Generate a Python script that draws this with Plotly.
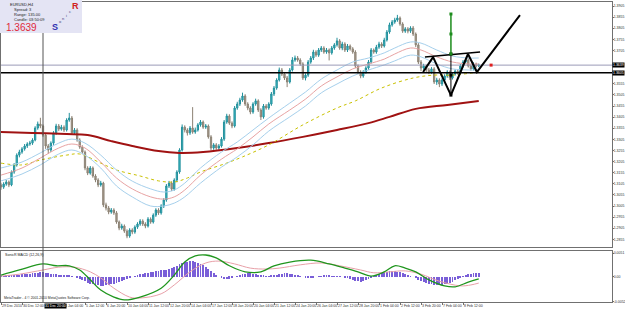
import numpy as np
import plotly.graph_objects as go

# ---------------- data (prices in pips, 1 pip = 0.0001) ----------------
OPEN = [13100,13090,13104,13113,13100,13158,13190,13234,13248,13262,
        13275,13284,13288,13302,13356,13374,13365,13324,13275,13257,
        13288,13334,13365,13351,13360,13347,13392,13401,13334,13347,
        13302,13270,13248,13176,13153,13176,13140,13122,13100,13108,
        13010,12996,12978,12987,12974,12933,12906,12915,12892,12870,
        12897,12888,12910,12924,12937,12924,12915,12946,12933,12964,
        12987,12974,13005,13032,13095,13108,13081,13122,13158,13257,
        13360,13347,13334,13356,13338,13347,13370,13383,13360,13365,
        13316,13266,13280,13266,13275,13306,13383,13410,13378,13365,
        13446,13464,13482,13500,13464,13446,13428,13464,13478,13437,
        13406,13455,13446,13464,13509,13536,13572,13617,13599,13581,
        13563,13617,13662,13671,13662,13644,13581,13594,13653,13671,
        13698,13684,13707,13716,13698,13707,13694,13716,13730,13748,
        13716,13734,13707,13725,13712,13698,13635,13608,13590,13608,
        13626,13653,13707,13698,13720,13734,13725,13752,13788,13820,
        13833,13842,13851,13824,13792,13802,13792,13806,13779,13730,
        13653,13626,13635,13617,13608,13622,13563,13572,13554,13572,
        13590,13608,13581,13599,13612,13603,13635,13653,13662,13635,
        13622,13644,13635]
CLOSE = [13090,13104,13113,13100,13158,13190,13234,13248,13262,13275,
         13284,13288,13302,13356,13374,13365,13324,13275,13257,13288,
         13334,13365,13351,13360,13347,13392,13401,13334,13347,13302,
         13270,13248,13176,13153,13176,13140,13122,13100,13108,13010,
         12996,12978,12987,12974,12933,12906,12915,12892,12870,12897,
         12888,12910,12924,12937,12924,12915,12946,12933,12964,12987,
         12974,13005,13032,13095,13108,13081,13122,13158,13257,13360,
         13347,13334,13356,13338,13347,13370,13383,13360,13365,13316,
         13266,13280,13266,13275,13306,13383,13410,13378,13365,13446,
         13464,13482,13500,13464,13446,13428,13464,13478,13437,13406,
         13455,13446,13464,13509,13536,13572,13617,13599,13581,13563,
         13617,13662,13671,13662,13644,13581,13594,13653,13671,13698,
         13684,13707,13716,13698,13707,13694,13716,13730,13748,13716,
         13734,13707,13725,13712,13698,13635,13608,13590,13608,13626,
         13653,13707,13698,13720,13734,13725,13752,13788,13820,13833,
         13842,13851,13824,13792,13802,13792,13806,13779,13730,13653,
         13626,13635,13617,13608,13622,13563,13572,13554,13572,13590,
         13608,13581,13599,13612,13603,13635,13653,13662,13635,13622,
         13644,13635,13639]
HIGH = [13110,13112,13122,13120,13165,13198,13242,13258,13270,13284,
        13292,13298,13310,13364,13385,13402,13372,13332,13284,13296,
        13342,13375,13374,13370,13368,13400,13424,13410,13356,13355,
        13310,13278,13255,13184,13185,13183,13148,13130,13118,13114,
        13020,13005,12996,12995,12982,12940,12925,12922,12900,12905,
        12905,12918,12932,12946,12945,12932,12955,12954,12972,12995,
        12995,13013,13040,13104,13118,13116,13130,13166,13265,13372,
        13368,13355,13365,13450,13358,13378,13392,13390,13374,13372,
        13324,13288,13288,13284,13315,13392,13420,13418,13386,13455,
        13474,13492,13515,13508,13472,13454,13472,13488,13485,13445,
        13464,13464,13472,13518,13545,13580,13628,13626,13606,13590,
        13626,13675,13682,13680,13670,13652,13602,13662,13680,13708,
        13706,13716,13725,13724,13716,13714,13725,13738,13762,13756,
        13744,13742,13734,13732,13720,13706,13642,13616,13616,13634,
        13662,13716,13714,13730,13744,13742,13762,13797,13830,13842,
        13852,13865,13858,13832,13810,13810,13814,13815,13786,13738,
        13662,13645,13642,13626,13630,13630,13582,13580,13580,13598,
        13616,13615,13607,13620,13620,13644,13662,13672,13670,13642,
        13652,13650,13646]
LOW = [13078,13082,13096,13090,13094,13150,13182,13224,13240,13254,
       13266,13276,13280,13296,13348,13355,13316,13262,13240,13248,
       13280,13325,13342,13344,13338,13340,13384,13325,13326,13294,
       13262,13238,13166,13144,13146,13132,13112,13090,13092,13000,
       12985,12968,12970,12965,12925,12896,12898,12884,12860,12862,
       12878,12880,12902,12916,12915,12905,12908,12925,12926,12956,
       12965,12966,12996,13024,13086,13072,13074,13112,13150,13250,
       13336,13322,13325,13330,13330,13340,13362,13352,13352,13308,
       13256,13258,13258,13258,13268,13298,13375,13370,13355,13358,
       13438,13455,13474,13455,13436,13418,13420,13456,13428,13392,
       13398,13438,13438,13456,13500,13528,13565,13590,13572,13540,
       13556,13610,13654,13654,13636,13572,13570,13586,13645,13662,
       13676,13676,13698,13690,13690,13660,13686,13708,13722,13708,
       13706,13698,13698,13704,13690,13626,13598,13580,13582,13600,
       13618,13646,13690,13690,13712,13716,13718,13745,13780,13812,
       13825,13834,13816,13784,13784,13782,13784,13770,13720,13644,
       13612,13618,13608,13598,13600,13554,13550,13540,13545,13564,
       13582,13572,13574,13592,13596,13596,13628,13646,13628,13614,
       13615,13628,13630]

# Dragon (EMA34 high / close / low), read at sample bars
DRAGON_BARS = [0,8,15,22,27,32,38,44,50,57,62,66,70,76,84,90,96,102,110,116,122,128,134,140,146,150,156,160,166,172,178,182]
DRAGON_TOP = [13176,13203,13244,13288,13306,13288,13234,13167,13117,13082,13068,13077,13108,13176,13248,13293,13347,13401,13468,13518,13576,13617,13653,13671,13694,13716,13743,13738,13707,13680,13671,13671]
DRAGON_MID = [13144,13176,13221,13266,13284,13266,13203,13131,13082,13046,13036,13046,13077,13144,13216,13262,13316,13374,13437,13486,13545,13586,13622,13644,13666,13689,13716,13707,13676,13653,13644,13644]
DRAGON_LOW = [13118,13149,13190,13239,13257,13234,13176,13095,13046,13005,13005,13018,13046,13108,13180,13226,13280,13342,13406,13455,13514,13554,13590,13617,13640,13658,13684,13676,13644,13622,13617,13617]

EMA89_BARS = [0,8,15,25,30,38,44,53,60,66,71,76,85,92,102,115,128,135,145,157,165,172,182]
EMA89_VAL = [13198,13190,13212,13234,13239,13198,13167,13140,13118,13113,13131,13158,13194,13226,13280,13370,13446,13478,13536,13581,13594,13594,13608]

EMA200_BARS = [0,12,25,33,42,50,60,68,77,90,102,115,128,140,148,158,170,182]
EMA200_VAL = [13338,13334,13329,13324,13297,13275,13252,13244,13248,13266,13288,13316,13347,13378,13406,13442,13460,13478]

# MACD panel (units of 0.0001)
MACD_HIST = [2,2,3,3,4,4,5,5,6,6,7,7,8,8,9,10,10,
             9,8,7,6,6,5,5,4,4,3,2,
             0,-2,-4,-7,-9,-12,-14,-16,-17,-18,-19,-19,-18,-17,-16,-14,-12,-10,-8,-6,
             -4,-2,0,2,4,6,7,8,9,10,11,12,13,14,15,16,18,20,22,24,27,30,32,
             33,34,34,33,31,28,25,21,17,12,8,4,0,-3,-5,
             -5,-4,-2,0,2,4,6,7,8,8,7,6,5,4,3,
             2,2,3,4,5,6,7,8,8,7,6,5,4,2,0,
             -1,-2,-2,-1,0,1,2,3,3,3,2,2,1,1,0,
             -1,-2,-4,-6,-8,-9,-10,-9,-7,-5,-2,1,4,6,8,
             10,11,12,12,12,11,10,8,6,4,2,0,-3,-6,-9,
             -11,-13,-15,-16,-17,-18,-18,-17,-16,-14,-12,-10,-7,-4,-1,
             2,4,6,7,8,8,8]
GREEN_BARS = [0,7,16,21,26,30,34,38,43,47,53,61,66,70,74,78,82,87,93,99,104,110,118,125,131,136,141,146,150,154,158,163,169,173,178,182]
GREEN_VAL = [4,15,28,24,24,15,-6,-28,-43,-49,-43,-24,4,32,45,47,41,24,11,11,24,32,36,28,19,11,2,11,24,19,11,-6,-19,-21,-11,-4]
PINK_BARS = [0,7,16,22,28,34,38,43,49,53,61,66,72,78,83,89,95,101,106,114,122,129,137,142,148,154,160,167,175,179,182]
PINK_VAL = [2,6,15,21,21,11,-2,-24,-43,-45,-36,-17,11,30,34,28,19,17,19,26,30,24,15,9,11,13,6,-9,-19,-17,-13]

# price levels & drawings
BID = 13639
HLINE = 13605
ZIGZAG_BARS = [160.8,164.6,171.4,177.9,181.3,197.7]
ZIGZAG_VAL = [13608,13675,13504,13689,13608,13864]
NECK_BARS = [161.5,182.5]
NECK_VAL = [13675,13698]
MEASURE_BAR = 171.4
MEASURE_GREEN = [13869,13779,13689]
MEASURE_BLACK = [13689,13594,13504]
RED_DOT = (186.7, 13639)
VLINE_BAR = 16

PRICE_TICKS = [12855,12905,12955,13005,13055,13105,13155,13205,13255,13305,13355,13405,
               13455,13505,13555,13705,13755,13805,13855,13905]
TICK_BARS = [0,8,24,32,40,48,56,64,72,80,88,96,104,112,120,128,136,144,152,160,168,176]
TICK_TEXT = ["29 Dec 2010","30 Dec 12:00","4 Jan 04:00","5 Jan 12:00","6 Jan 20:00","10 Jan 04:00",
             "11 Jan 12:00","12 Jan 20:00","14 Jan 04:00","17 Jan 12:00","18 Jan 20:00","20 Jan 04:00",
             "21 Jan 12:00","24 Jan 20:00","26 Jan 04:00","27 Jan 12:00","28 Jan 20:00","1 Feb 04:00",
             "2 Feb 12:00","3 Feb 20:00","7 Feb 04:00","8 Feb 12:00"]
VLINE_LABEL = "31 Dec 20:00"

P = lambda a: np.asarray(a, dtype=float) * 1e-4
bars = np.arange(len(CLOSE))

W, H = 625, 309
ML, MR, MT, MB = 1, 13, 2, 7
PW, PH = W - ML - MR, H - MT - MB
def px_x(x): return (x - ML) / PW
def px_y(y): return (H - MB - y) / PH

fig = go.Figure()

# moving averages
fig.add_trace(go.Scatter(x=EMA200_BARS, y=P(EMA200_VAL), mode="lines", line=dict(color="#a01212", width=2, shape="spline"), xaxis="x", yaxis="y"))
fig.add_trace(go.Scatter(x=EMA89_BARS, y=P(EMA89_VAL), mode="lines", line=dict(color="#c9c100", width=1, dash="dot", shape="spline"), xaxis="x", yaxis="y"))
fig.add_trace(go.Scatter(x=DRAGON_BARS, y=P(DRAGON_TOP), mode="lines", line=dict(color="#a6d0ec", width=1, shape="spline"), xaxis="x", yaxis="y"))
fig.add_trace(go.Scatter(x=DRAGON_BARS, y=P(DRAGON_LOW), mode="lines", line=dict(color="#a6d0ec", width=1, shape="spline"), xaxis="x", yaxis="y"))
fig.add_trace(go.Scatter(x=DRAGON_BARS, y=P(DRAGON_MID), mode="lines", line=dict(color="#e8a3a3", width=1, shape="spline"), xaxis="x", yaxis="y"))

# price lines
fig.add_trace(go.Scatter(x=[-1, 240], y=P([BID, BID]), mode="lines", line=dict(color="#9a9ab8", width=1), xaxis="x", yaxis="y"))
fig.add_trace(go.Scatter(x=[-1, 240], y=P([HLINE, HLINE]), mode="lines", line=dict(color="#000000", width=1.5), xaxis="x", yaxis="y"))

# candles
fig.add_trace(go.Candlestick(x=bars, open=P(OPEN), high=P(HIGH), low=P(LOW), close=P(CLOSE),
                             increasing=dict(line=dict(color="#23909c", width=1), fillcolor="#3ec0cc"),
                             decreasing=dict(line=dict(color="#8c8274", width=1), fillcolor="#aaa092"),
                             whiskerwidth=0, xaxis="x", yaxis="y"))

# drawings
fig.add_trace(go.Scatter(x=NECK_BARS, y=P(NECK_VAL), mode="lines", line=dict(color="#000", width=1.5), xaxis="x", yaxis="y"))
fig.add_trace(go.Scatter(x=ZIGZAG_BARS, y=P(ZIGZAG_VAL), mode="lines", line=dict(color="#000", width=2), xaxis="x", yaxis="y"))
fig.add_trace(go.Scatter(x=[MEASURE_BAR]*3, y=P(MEASURE_BLACK), mode="lines+markers", line=dict(color="#000", width=1),
                         marker=dict(symbol="square", size=3, color="#000"), xaxis="x", yaxis="y"))
fig.add_trace(go.Scatter(x=[MEASURE_BAR]*3, y=P(MEASURE_GREEN), mode="lines+markers", line=dict(color="#1c8c1c", width=1.5),
                         marker=dict(symbol="square", size=3, color="#1c8c1c"), xaxis="x", yaxis="y"))
fig.add_trace(go.Scatter(x=[RED_DOT[0]], y=P([RED_DOT[1]]), mode="markers", marker=dict(symbol="square", size=3, color="#e02020"), xaxis="x", yaxis="y"))

# MACD panel
fig.add_trace(go.Bar(x=bars, y=P(MACD_HIST), marker=dict(color="#7a5fd8", line=dict(width=0)), width=0.38, xaxis="x2", yaxis="y2"))
fig.add_trace(go.Scatter(x=PINK_BARS, y=P(PINK_VAL), mode="lines", line=dict(color="#e8a0a8", width=1, shape="spline"), xaxis="x2", yaxis="y2"))
fig.add_trace(go.Scatter(x=GREEN_BARS, y=P(GREEN_VAL), mode="lines", line=dict(color="#20961e", width=1.3, shape="spline"), xaxis="x2", yaxis="y2"))

axis_line = dict(showline=True, linecolor="#707070", linewidth=1, mirror=True, showgrid=False, zeroline=False, automargin=False)
tickfont = dict(family="Liberation Sans", size=3.5, color="#303030")
XR = [0, PW / 2.625]
main_top = px_y(2); main_bot = px_y(247)
macd_top = px_y(251); macd_bot = px_y(302)

fig.update_layout(
    width=W, height=H, margin=dict(l=ML, r=MR, t=MT, b=MB, autoexpand=False),
    paper_bgcolor="white", plot_bgcolor="white", showlegend=False, bargap=0,
    xaxis=dict(domain=[0, 1], range=XR, anchor="y", showticklabels=False, ticks="", rangeslider=dict(visible=False), **axis_line),
    xaxis2=dict(domain=[0, 1], range=XR, anchor="y2", matches="x", tickvals=TICK_BARS, ticktext=TICK_TEXT, tickangle=0,
                ticks="outside", ticklen=2, tickcolor="#707070", tickfont=tickfont, ticklabelposition="outside right", **axis_line),
    yaxis=dict(domain=[main_bot, main_top], range=[1.3932 - 247 * 0.00045, 1.3932 - 2 * 0.00045], side="right",
               tickvals=list(P(PRICE_TICKS)), tickformat=".4f", ticks="outside", ticklen=1, tickcolor="#707070",
               tickfont=tickfont, ticklabelstandoff=-1, **axis_line),
    yaxis2=dict(domain=[macd_bot, macd_top], range=[-0.00535, 0.00556], side="right",
                tickvals=[0.0051, 0, -0.0052], ticktext=["0.0051", "0.00", "-0.0052"], ticks="outside", ticklen=1,
                tickcolor="#707070", tickfont=tickfont, ticklabelstandoff=-1, **axis_line),
)

shapes = [
    dict(type="line", xref="x", yref="paper", x0=VLINE_BAR, x1=VLINE_BAR, y0=macd_bot, y1=main_top, line=dict(color="#555555", width=1)),
    dict(type="rect", xref="paper", yref="paper", x0=px_x(0), x1=px_x(82), y0=px_y(33), y1=px_y(0), fillcolor="#e4e4f4", line=dict(width=0), layer="above"),
]
fig.update_layout(shapes=shapes)

ann = []
def A(text, x, y, size=4, color="#202020", xanchor="left", yanchor="middle", **kw):
    ann.append(dict(text=text, xref="paper", yref="paper", x=px_x(x), y=px_y(y), showarrow=False,
                    xanchor=xanchor, yanchor=yanchor, font=dict(family="Liberation Sans", size=size, color=color), **kw))
A("EURUSD,H4", 8, 4)
A("Spread: 3", 12, 9.5)
A("Range: 135.00", 12, 14.5)
A("Candle: 03:50:09", 12, 19.5)
A("1.3639", 4, 27, size=10, color="#e0283a")
A("<b>S</b>", 50, 27, size=9, color="#3030b0")
A("<b>R</b>", 70, 6, size=9, color="#d02020")
A("o", 56.5, 22, size=4, color="#404080")
A("n", 60, 18.5, size=4, color="#404080")
A("i", 63.5, 15, size=4, color="#404080")
A("c", 66.5, 11.5, size=4, color="#404080")
A("SonicR MACD (12,26,9)", 3, 255, size=3.6)
A("MetaTrader - 4 © 2001-2010 MetaQuotes Software Corp.", 2, 298, size=3.4)
# highlighted axis labels
for lvl in (BID, HLINE):
    ann.append(dict(text="%.4f" % (lvl * 1e-4), xref="paper", yref="y", x=1.0, y=lvl * 1e-4, xanchor="left", yanchor="middle",
                    showarrow=False, bgcolor="#000", borderpad=0, font=dict(family="Liberation Sans", size=3.5, color="white")))
ann.append(dict(text=VLINE_LABEL, xref="x", yref="paper", x=VLINE_BAR, y=px_y(305.5), xanchor="left", yanchor="middle",
                xshift=0.5, showarrow=False, bgcolor="#000", borderpad=0,
                font=dict(family="Liberation Sans", size=3.5, color="white")))
fig.update_layout(annotations=ann)

fig.write_html("out.html")
